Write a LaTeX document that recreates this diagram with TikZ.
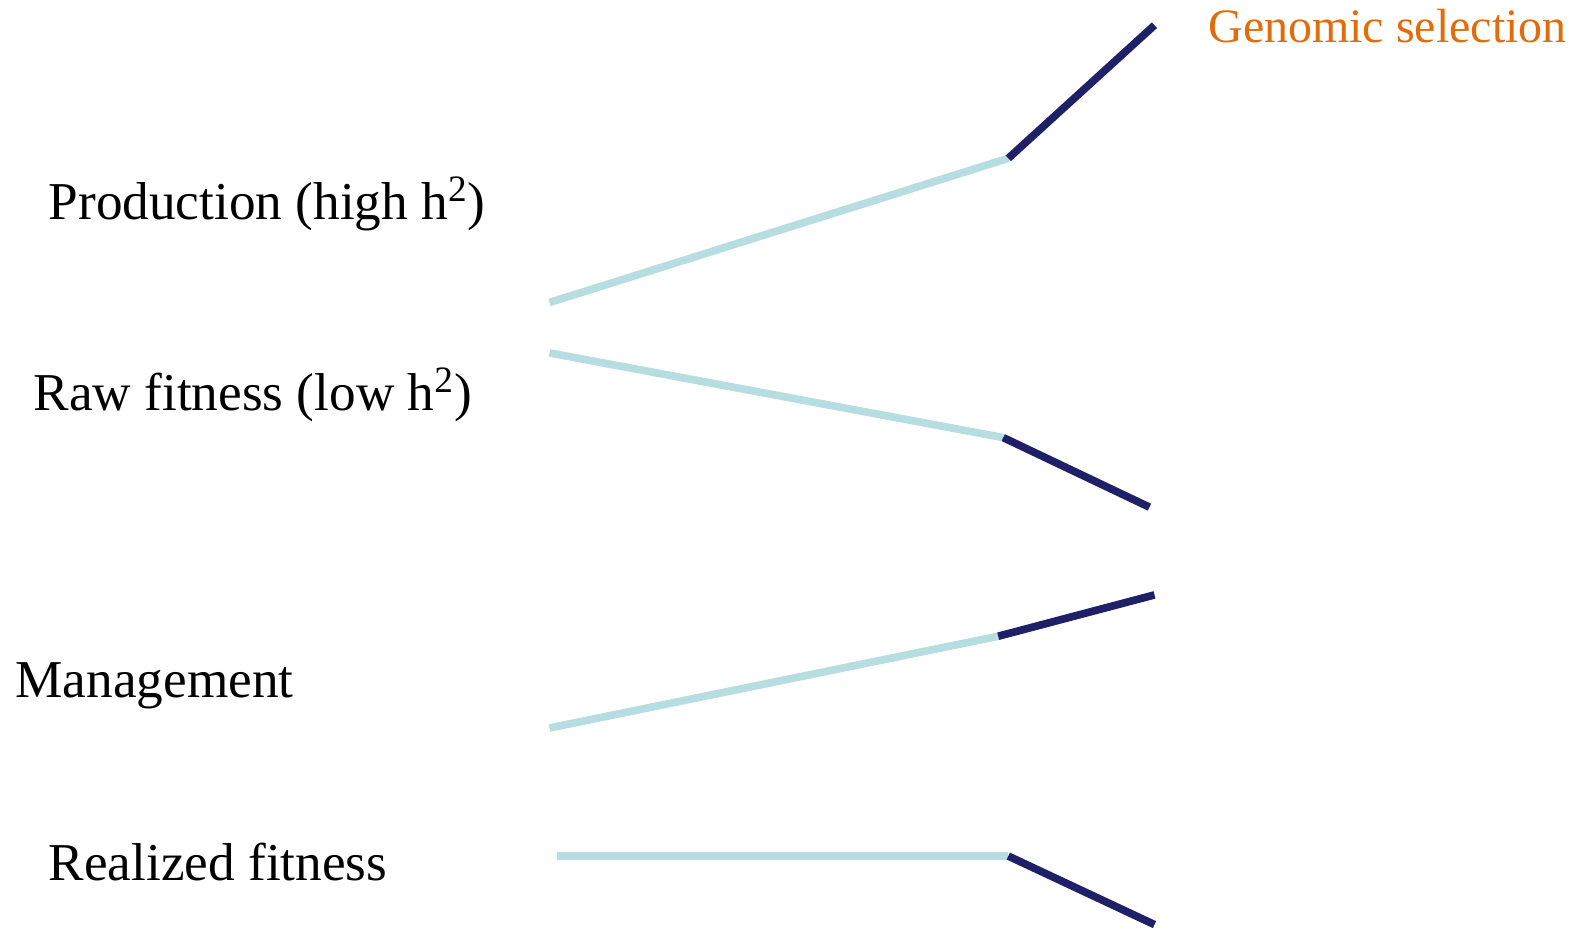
\documentclass[tikz,border=0pt]{standalone}
\usepackage{fontspec}
\setmainfont{Liberation Serif}
\definecolor{lightline}{RGB}{182,221,224}
\definecolor{darkline}{RGB}{32,32,104}
\definecolor{gsorange}{RGB}{227,108,10}
\begin{document}
\begin{tikzpicture}[x=0.5pt,y=-0.5pt,
  lbl/.style={anchor=base west,inner sep=0pt,font=\fontsize{26.4}{30}\selectfont},
  pre/.style={draw=lightline,line width=3.8pt},
  post/.style={draw=darkline,line width=3.8pt}]
\useasboundingbox (0,0) rectangle (1568,922);
% labels
\node[lbl,text=gsorange,font=\fontsize{23.8}{28}\selectfont] (gs) at (1198,42) {Genomic selection};
\node[lbl] (prod) at (48,218) {Production (high h\textsuperscript{2})};
\node[lbl] (raw) at (33,407) {Raw fitness (low h\textsuperscript{2})};
\node[lbl] (man) at (15,692) {Management};
\node[lbl] (real) at (48,873) {Realized fitness};
% coordinates
\coordinate (a0) at (545,300); \coordinate (a1) at (1000,157); \coordinate (a2) at (1145,25);
\coordinate (b0) at (545,350); \coordinate (b1) at (995,434); \coordinate (b2) at (1140,503);
\coordinate (c0) at (545,722); \coordinate (c1) at (990,631); \coordinate (c2) at (1145,590);
\coordinate (d0) at (552,849); \coordinate (d1) at (1000,849); \coordinate (d2) at (1145,917);
% lines
\draw[pre] (a0) -- (a1); \draw[post] (a1) -- (a2);
\draw[pre] (b0) -- (b1); \draw[post] (b1) -- (b2);
\draw[pre] (c0) -- (c1); \draw[post] (c1) -- (c2);
\draw[pre] (d0) -- (d1); \draw[post] (d1) -- (d2);
\end{tikzpicture}
\end{document}
